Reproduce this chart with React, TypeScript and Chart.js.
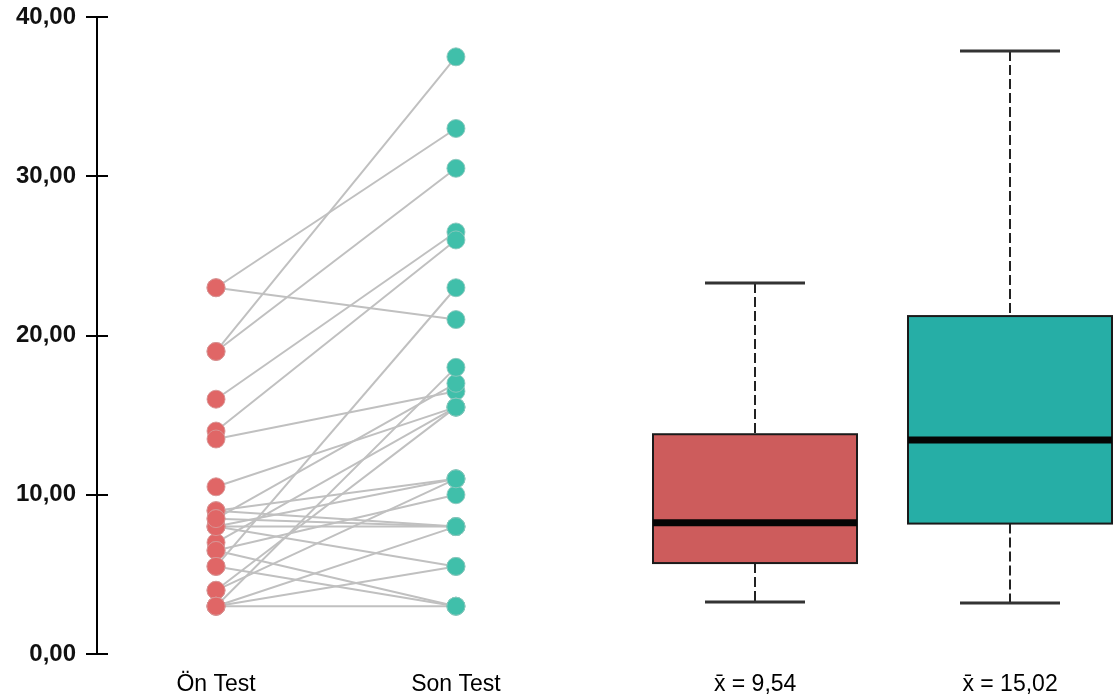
import React, { useEffect, useRef } from "react";
import { Chart, registerables } from "chart.js";

Chart.register(...registerables);

// Paired scores: preScores[i] and postScores[i] belong to the same participant
const groupLabels = ["Ön Test", "Son Test"];
const preScores = [23, 23, 19, 19, 16, 14, 13.5, 10.5, 9, 9, 8.5, 8, 8, 7, 6.5, 6.5, 5.5, 5.5, 4, 4, 3, 3, 3, 3, 8, 8.5];
const postScores = [33, 21, 37.5, 30.5, 26.5, 26, 16.5, 15.5, 11, 8, 17, 11, 5.5, 15.5, 10, 3, 23, 3, 15.5, 11, 18, 8, 3, 5.5, 8, 8];

// Box plot summaries: [lower whisker, Q1, median, Q3, upper whisker]
const preBoxStats = [3.27, 5.71, 8.24, 13.8, 23.3];
const postBoxStats = [3.2, 8.19, 13.44, 21.22, 37.87];

const yTickValues = [0, 10, 20, 30, 40];

// Horizontal slots on the linear x axis
const X_PRE = 1;
const X_POST = 2.008;
const X_BOX_PRE = 3.265;
const X_BOX_POST = 4.336;
const X_MIN = 0.5;
const X_MAX = 4.777;

const RED_POINT = "#E06666";
const GREEN_POINT = "#40BFAA";
const RED_BOX = "#CD5C5C";
const GREEN_BOX = "#26AEA6";
const PAIR_LINE = "rgb(192,192,192)";

const mean = (arr: number[]) => arr.reduce((s, v) => s + v, 0) / arr.length;
const fmt = (v: number) => v.toFixed(2).replace(".", ",");

const xTickValues = [X_PRE, X_POST, X_BOX_PRE, X_BOX_POST];
const xTickLabels = [
  groupLabels[0],
  groupLabels[1],
  "x\u0304 = " + fmt(mean(preScores)),
  "x\u0304 = " + fmt(mean(postScores)),
];

const boxes = [
  { x: X_BOX_PRE, stats: preBoxStats, fill: RED_BOX },
  { x: X_BOX_POST, stats: postBoxStats, fill: GREEN_BOX },
];

// Draws the two box plots with dashed whiskers through the chart's scales
const boxPlotPlugin = {
  id: "boxPlots",
  afterDatasetsDraw(chart: any) {
    const { ctx, scales } = chart;
    const xs = scales.x;
    const ys = scales.y;
    const half = 102;
    const capHalf = 50;
    boxes.forEach((b) => {
      const cx = Math.round(xs.getPixelForValue(b.x));
      const [lo, q1, med, q3, hi] = b.stats.map((v: number) => ys.getPixelForValue(v));
      ctx.save();
      // whiskers
      ctx.strokeStyle = "#222";
      ctx.lineWidth = 2;
      ctx.setLineDash([10, 4]);
      ctx.beginPath();
      ctx.moveTo(cx, hi);
      ctx.lineTo(cx, q3);
      ctx.moveTo(cx, q1);
      ctx.lineTo(cx, lo);
      ctx.stroke();
      ctx.setLineDash([]);
      // caps
      ctx.lineWidth = 3;
      ctx.strokeStyle = "#333";
      ctx.beginPath();
      ctx.moveTo(cx - capHalf, hi);
      ctx.lineTo(cx + capHalf, hi);
      ctx.moveTo(cx - capHalf, lo);
      ctx.lineTo(cx + capHalf, lo);
      ctx.stroke();
      // box
      ctx.fillStyle = b.fill;
      ctx.fillRect(cx - half, q3, half * 2, q1 - q3);
      ctx.lineWidth = 2;
      ctx.strokeStyle = "#1a1a1a";
      ctx.strokeRect(cx - half, q3, half * 2, q1 - q3);
      // median
      ctx.lineWidth = 7;
      ctx.strokeStyle = "#050505";
      ctx.beginPath();
      ctx.moveTo(cx - half, med);
      ctx.lineTo(cx + half, med);
      ctx.stroke();
      ctx.restore();
    });
  },
};

// Extends the y-axis tick marks to the inner side of the axis line
const innerTicksPlugin = {
  id: "innerTicks",
  afterDraw(chart: any) {
    const { ctx, scales, chartArea } = chart;
    const ys = scales.y;
    ctx.save();
    ctx.strokeStyle = "#000";
    ctx.lineWidth = 2;
    ctx.beginPath();
    yTickValues.forEach((v) => {
      const y = Math.round(ys.getPixelForValue(v));
      ctx.moveTo(chartArea.left, y);
      ctx.lineTo(chartArea.left + 11, y);
    });
    ctx.stroke();
    ctx.restore();
  },
};

export default function App() {
  const canvasRef = useRef<HTMLCanvasElement | null>(null);

  useEffect(() => {
    if (!canvasRef.current) return;

    const pairDatasets = preScores.map((pre, i) => ({
      type: "line" as const,
      data: [
        { x: X_PRE, y: pre },
        { x: X_POST, y: postScores[i] },
      ],
      borderColor: PAIR_LINE,
      borderWidth: 2,
      pointRadius: 0,
      fill: false,
      order: 2,
    }));

    const chart = new Chart(canvasRef.current, {
      type: "scatter",
      data: {
        datasets: [
          {
            type: "scatter" as const,
            data: preScores.map((v) => ({ x: X_PRE, y: v })),
            backgroundColor: RED_POINT,
            borderColor: "rgba(215,150,150,0.9)",
            borderWidth: 1,
            pointRadius: 9,
            order: 0,
          },
          {
            type: "scatter" as const,
            data: postScores.map((v) => ({ x: X_POST, y: v })),
            backgroundColor: GREEN_POINT,
            borderColor: "rgba(140,200,190,0.9)",
            borderWidth: 1,
            pointRadius: 9,
            order: 0,
          },
          ...pairDatasets,
        ] as any,
      },
      plugins: [boxPlotPlugin, innerTicksPlugin],
      options: {
        responsive: false,
        animation: false,
        layout: { autoPadding: false, padding: { top: 17, right: 0, left: 0, bottom: 0 } },
        plugins: {
          legend: { display: false },
          tooltip: { enabled: false },
        },
        scales: {
          x: {
            type: "linear",
            min: X_MIN,
            max: X_MAX,
            afterBuildTicks: (scale: any) => {
              scale.ticks = xTickValues.map((v) => ({ value: v }));
            },
            afterFit: (scale: any) => {
              scale.height = 46;
              scale.paddingLeft = 0;
              scale.paddingRight = 0;
            },
            grid: { display: false, drawTicks: false },
            border: { display: false },
            ticks: {
              autoSkip: false,
              maxRotation: 0,
              padding: 17,
              color: "#000",
              font: { family: "'Liberation Sans', Arial, sans-serif", size: 23 },
              callback: (_v: any, i: number) => xTickLabels[i],
            },
          },
          y: {
            type: "linear",
            min: 0,
            max: 40,
            afterBuildTicks: (scale: any) => {
              scale.ticks = yTickValues.map((v) => ({ value: v }));
            },
            afterFit: (scale: any) => {
              scale.width = 97;
              scale.paddingTop = 0;
              scale.paddingBottom = 0;
            },
            grid: {
              drawOnChartArea: false,
              drawTicks: true,
              tickLength: 11,
              color: "#000",
              lineWidth: 2,
            },
            border: { display: true, color: "#000", width: 2 },
            ticks: {
              padding: 10,
              color: "#111",
              font: { family: "'Liberation Sans', Arial, sans-serif", size: 24, weight: "bold" },
              callback: (v: any) => fmt(Number(v)),
            },
          },
        },
      } as any,
    });

    return () => chart.destroy();
  }, []);

  return (
    <div style={{ position: "absolute", left: 0, top: 0, width: 1115, height: 700, background: "#fff" }}>
      <canvas ref={canvasRef} width={1115} height={700} />
    </div>
  );
}
